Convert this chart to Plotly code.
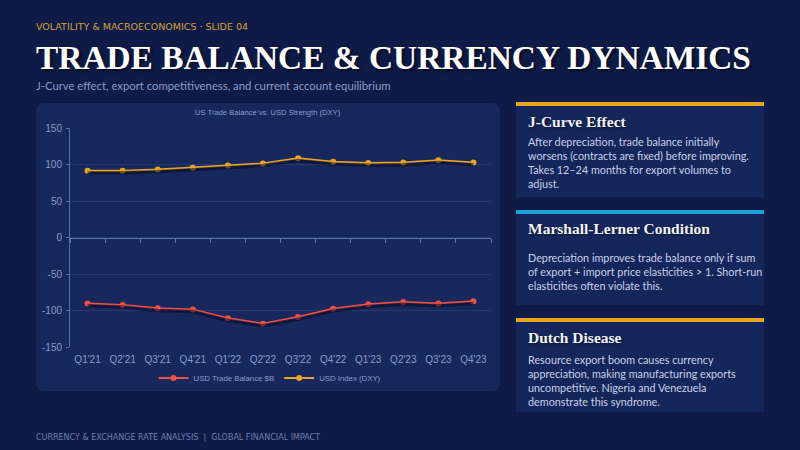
import plotly.graph_objects as go

# ---- data ----
quarters = ["Q1'21", "Q2'21", "Q3'21", "Q4'21", "Q1'22", "Q2'22",
            "Q3'22", "Q4'22", "Q1'23", "Q2'23", "Q3'23", "Q4'23"]
trade_balance = [-90.5, -92.3, -97.0, -98.5, -110.5, -118.0,
                 -109.0, -97.5, -91.5, -88.5, -90.5, -87.5]
dxy_index = [91.5, 91.6, 93.2, 95.6, 98.8, 101.5,
             108.5, 103.8, 102.0, 102.8, 105.8, 102.8]
y_ticks = [-150, -100, -50, 0, 50, 100, 150]
y_tick_labels = ["-150", "-100", "-50", "0", "50", "100", "150"]

cards = [
    ("J-Curve Effect",
     ["After depreciation, trade balance initially",
      "worsens (contracts are fixed) before improving.",
      "Takes 12\u201324 months for export volumes to",
      "adjust."]),
    ("Marshall-Lerner Condition",
     ["Depreciation improves trade balance only if sum",
      "of export + import price elasticities > 1. Short-run",
      "elasticities often violate this."]),
    ("Dutch Disease",
     ["Resource export boom causes currency",
      "appreciation, making manufacturing exports",
      "uncompetitive. Nigeria and Venezuela",
      "demonstrate this syndrome."]),
]

# ---- colours ----
BG = "#0e1b47"
PANEL = "#17285d"
CARD = "#15265a"
ORANGE = "#e9a21f"
BLUE = "#1fa2d8"
RED = "#ef5148"
GOLD = "#e9a525"
MUTED = "#8b9bc8"
AXIS = "#5c6fa6"
SHADOW = "rgba(5,10,35,0.55)"

W, H = 800, 450


def px(x):
    return x / W


def py(y):
    return 1 - y / H


fig = go.Figure()

# soft drop shadow under both lines: same data on a slightly shifted axis
for series in (trade_balance, dxy_index):
    fig.add_trace(go.Scatter(
        x=quarters, y=series, yaxis="y2", mode="lines",
        line=dict(color=SHADOW, width=3.5), showlegend=False,
        hoverinfo="skip",
    ))

fig.add_trace(go.Scatter(
    x=quarters, y=trade_balance, name="USD Trade Balance $B",
    mode="lines+markers",
    line=dict(color=RED, width=2),
    marker=dict(color=RED, size=6),
))
fig.add_trace(go.Scatter(
    x=quarters, y=dxy_index, name="USD Index (DXY)",
    mode="lines+markers",
    line=dict(color=GOLD, width=2),
    marker=dict(color=GOLD, size=6),
))
# invisible trace so the zero-axis (x2) gets its category ticks
fig.add_trace(go.Scatter(
    x=quarters, y=trade_balance, xaxis="x2", mode="lines",
    line=dict(width=0), opacity=0, showlegend=False, hoverinfo="skip",
))

shapes = []


def rounded_rect(x0, y0, x1, y1, r, color):
    p = (f"M {px(x0 + r)} {py(y0)} L {px(x1 - r)} {py(y0)} "
         f"Q {px(x1)} {py(y0)} {px(x1)} {py(y0 + r)} "
         f"L {px(x1)} {py(y1 - r)} Q {px(x1)} {py(y1)} {px(x1 - r)} {py(y1)} "
         f"L {px(x0 + r)} {py(y1)} Q {px(x0)} {py(y1)} {px(x0)} {py(y1 - r)} "
         f"L {px(x0)} {py(y0 + r)} Q {px(x0)} {py(y0)} {px(x0 + r)} {py(y0)} Z")
    return dict(type="path", xref="paper", yref="paper", path=p,
                fillcolor=color, line=dict(width=0), layer="below")


# chart panel
shapes.append(rounded_rect(36, 103, 500, 391, 9, PANEL))

# cards on the right
card_tops = [102, 210, 318]
card_bottoms = [197, 305, 412]
bar_colors = [ORANGE, BLUE, ORANGE]
for top, bottom, col in zip(card_tops, card_bottoms, bar_colors):
    shapes.append(dict(type="rect", xref="paper", yref="paper",
                       x0=px(516), x1=px(764), y0=py(bottom), y1=py(top + 4),
                       fillcolor=CARD, line=dict(width=0), layer="below"))
    shapes.append(dict(type="rect", xref="paper", yref="paper",
                       x0=px(516), x1=px(764), y0=py(top + 4), y1=py(top),
                       fillcolor=col, line=dict(width=0), layer="below"))

annotations = []


def text(x, y, s, size, color, family, xanchor="left", yanchor="middle", **kw):
    annotations.append(dict(
        xref="paper", yref="paper", x=px(x), y=py(y), text=s, showarrow=False,
        xanchor=xanchor, yanchor=yanchor, align="left",
        xshift=-2 if xanchor == "left" else 0,
        font=dict(size=size, color=color, family=family, **kw)))


text(36, 26, "VOLATILITY &amp; MACROECONOMICS \u00b7 SLIDE 04", 9.5, "#d6a23a",
     "DejaVu Sans")
text(36, 58, "<b>TRADE BALANCE &amp; CURRENCY DYNAMICS</b>", 33.4, "#ffffff",
     "Liberation Serif", shadow="2px 2px 3px rgba(0,0,0,0.55)")
text(36, 85, "J-Curve effect, export competitiveness, and current account equilibrium",
     11.3, MUTED, "Lato")
text(36, 437, "CURRENCY &amp; EXCHANGE RATE ANALYSIS  |  GLOBAL FINANCIAL IMPACT",
     8, "#6f7eab", "DejaVu Sans")

text(268, 113, "US Trade Balance vs. USD Strength (DXY)", 7.6, MUTED,
     "Liberation Sans", xanchor="center")

title_ys = [121, 229, 337]
body_ys = [142, 257, 359]
for (title, lines), ty, by in zip(cards, title_ys, body_ys):
    text(528, ty, f"<b>{title}</b>", 15.5, "#f2f4fa", "Liberation Serif",
         shadow="1px 1px 2px rgba(0,0,0,0.5)")
    # one text block per card body
    text(528, by - 8.5, "<br>".join(lines), 10.8, "#c9d1ea", "Lato",
         yanchor="top")

fig.update_layout(
    width=W, height=H, autosize=False,
    margin=dict(l=0, r=0, t=0, b=0, pad=0, autoexpand=False),
    paper_bgcolor=BG, plot_bgcolor="rgba(0,0,0,0)",
    shapes=shapes, annotations=annotations,
    showlegend=True,
    legend=dict(orientation="h", x=px(270), xanchor="center",
                y=py(378), yanchor="middle",
                font=dict(size=7.8, color=MUTED, family="Liberation Sans"),
                bgcolor="rgba(0,0,0,0)", itemwidth=30),
    xaxis=dict(domain=[px(70), px(491)], range=[-0.5, 11.5],
               type="category", showgrid=False, showline=False, ticks="",
               zeroline=False, automargin=False, ticklabelstandoff=5,
               tickfont=dict(size=10, color=MUTED, family="Liberation Sans")),
    xaxis2=dict(overlaying="x", anchor="free",
                position=(py(347) + py(128)) / 2,
                domain=[px(70), px(491)], range=[-0.5, 11.5],
                type="category", showgrid=False, showline=True,
                linecolor=AXIS, linewidth=1, ticks="outside",
                tickson="boundaries", ticklen=4, tickcolor=AXIS,
                showticklabels=False, zeroline=False, automargin=False),
    yaxis=dict(domain=[py(347), py(128)], range=[-150, 150],
               tickvals=y_ticks, ticktext=y_tick_labels,
               showline=True, linecolor=AXIS, ticks="outside", ticklen=3,
               tickcolor=AXIS, gridcolor="rgba(140,160,220,0.13)",
               zeroline=False, automargin=False, ticklabelstandoff=2,
               tickfont=dict(size=10, color=MUTED, family="Liberation Sans")),
    # shadow axis: same scale, shifted ~2px downward
    yaxis2=dict(domain=[py(347), py(128)], range=[-147, 153],
                overlaying="y", visible=False),
    font=dict(family="Liberation Sans"),
)

page_fix = (
    "for (const el of [document.documentElement, document.body]) {"
    " el.style.margin='0'; el.style.padding='0'; el.style.overflow='hidden';"
    " el.style.background='#0e1b47'; }"
)
fig.write_html("out.html",
               config={"displayModeBar": False, "responsive": False},
               post_script=page_fix)
